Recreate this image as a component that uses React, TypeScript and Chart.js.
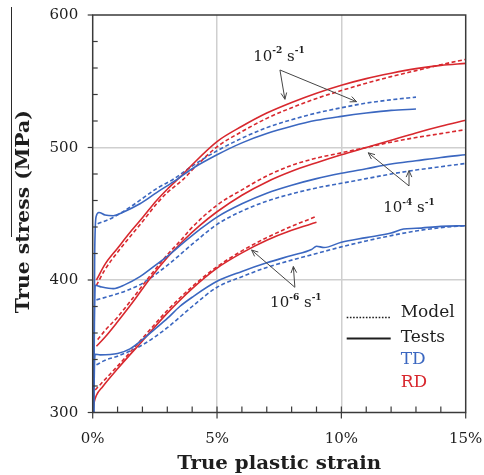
import { useEffect, useRef } from "react";
import { Chart, registerables } from "chart.js";

Chart.register(...registerables);

// ---------- colours & fonts ----------
const RED = "#d8282e";
const BLUE = "#3b67c0";
const AXIS = "#3a3a3a";
const GRID = "#cfcfcf";
const INK = "#1e1e1e";
const SERIF = "'DejaVu Serif', 'Liberation Serif', serif";

// ---------- axes ----------
const strainMin = 0;
const strainMax = 15;
const stressMin = 300;
const stressMax = 600;
const strainMajorTicks = [0, 5, 10, 15];
const strainMinorTicks = [1, 2, 3, 4, 6, 7, 8, 9, 11, 12, 13, 14];
const stressMajorTicks = [300, 400, 500, 600];
const stressMinorTicks = [320, 340, 360, 380, 420, 440, 460, 480, 520, 540, 560, 580];
const strainGrid = [5, 10];
const stressGrid = [400, 500];
const xTitle = "True plastic strain";
const yTitle = "True stress (MPa)";

// ---------- data (strain in %, stress in MPa) ----------
// 10^-2 s^-1, RD
const rd2TestStrain = [0.15, 0.5, 1.0, 1.57, 2.0, 2.57, 3.0, 3.64, 4.0, 5.0, 6.0, 7.0, 8.0, 9.0, 10.0, 11.0, 12.0, 13.0, 14.0, 15.0];
const rd2TestStress = [400, 412, 424, 437.5, 447, 460, 468.5, 480, 487, 504.5, 516, 526, 534, 541, 547, 552, 556, 559.5, 562, 563.5];
const rd2ModelStrain = [0.15, 0.5, 1.0, 2.0, 2.57, 3.0, 3.64, 4.0, 5.0, 6.0, 7.0, 8.0, 9.0, 10.0, 11.0, 12.0, 13.0, 14.0, 15.0];
const rd2ModelStress = [396, 408, 421, 444, 457.5, 466, 476, 483, 500.5, 512, 522, 530, 537, 543, 548.5, 553.5, 558, 562.5, 566.5];
// 10^-2 s^-1, TD
const td2TestStrain = [0.04, 0.08, 0.14, 0.25, 0.5, 0.83, 1.2, 1.9, 2.57, 3.24, 4.0, 5.0, 6.0, 7.0, 8.0, 9.0, 10.0, 11.0, 12.0, 13.0];
const td2TestStress = [300, 420, 448, 451, 449, 448.5, 451, 457.5, 466, 474, 484, 494.5, 503.5, 510.5, 516, 520.5, 523.5, 526, 528, 529];
const td2ModelStrain = [0.2, 0.8, 1.5, 2.0, 2.57, 3.24, 4.0, 5.0, 6.0, 7.0, 8.0, 9.0, 10.0, 11.0, 12.0, 13.0];
const td2ModelStress = [442.5, 447, 455, 461.5, 469, 476, 486, 497.5, 507, 515, 521, 526, 530, 533.5, 536, 538];
// 10^-4 s^-1, RD
const rd4TestStrain = [0.15, 0.5, 1.0, 1.6, 2.3, 3.0, 3.64, 4.3, 5.0, 6.0, 7.0, 8.0, 9.0, 10.0, 11.0, 12.0, 13.0, 14.0, 15.0];
const rd4TestStress = [350, 357, 368.5, 383, 401, 417, 429.6, 441, 451.5, 464, 474, 482, 488.5, 494.5, 500, 505.5, 511, 516, 520.5];
const rd4ModelStrain = [0.2, 0.5, 1.0, 1.6, 2.3, 3.0, 3.64, 3.91, 5.0, 6.0, 7.0, 8.0, 9.0, 10.0, 11.0, 12.0, 13.0, 14.0, 15.0];
const rd4ModelStress = [355, 362, 372, 386, 403, 419, 432, 438, 456.5, 468, 478.5, 486.5, 492, 496, 500, 504, 507.5, 510.5, 513.5];
// 10^-4 s^-1, TD
const td4TestStrain = [0.04, 0.07, 0.1, 0.3, 0.83, 1.3, 1.9, 2.3, 2.98, 3.64, 4.3, 5.0, 6.0, 7.0, 8.0, 9.0, 10.0, 11.0, 12.0, 13.0, 14.0, 15.0];
const td4TestStress = [300, 370, 396, 395, 393.5, 396.5, 402.5, 408, 417.6, 428, 438, 447.5, 457.5, 465.5, 471.5, 476.5, 480.5, 484, 487.5, 490, 492.5, 494.5];
const td4ModelStrain = [0.15, 0.8, 1.5, 2.0, 3.0, 4.0, 5.0, 6.0, 7.0, 8.0, 9.0, 10.0, 11.0, 12.0, 13.0, 14.0, 15.0];
const td4ModelStress = [385, 388.5, 393, 397.5, 411, 427, 442, 452, 459.5, 465, 469.5, 473, 476.5, 480, 483, 485.5, 488];
// 10^-6 s^-1, RD
const rd6TestStrain = [0.0, 0.05, 0.15, 0.4, 1.0, 2.0, 3.0, 4.0, 5.0, 6.0, 7.0, 8.0, 9.0];
const rd6TestStress = [300, 307, 313, 319.5, 333, 354, 375, 393.5, 409, 420.5, 430, 437.5, 443.5];
const rd6ModelStrain = [0.1, 0.3, 0.6, 1.0, 2.0, 3.0, 4.0, 5.0, 6.0, 7.0, 8.0, 9.0];
const rd6ModelStress = [317, 321, 327, 335, 356, 377, 395, 410, 422, 432, 440.5, 448];
// 10^-6 s^-1, TD
const td6TestStrain = [0.04, 0.07, 0.1, 0.3, 1.0, 1.5, 2.0, 2.5, 3.0, 3.5, 4.0, 5.0, 6.0, 7.0, 8.0, 8.8, 9.0, 9.3, 10.0, 11.0, 12.0, 12.5, 13.0, 14.0, 15.0];
const td6TestStress = [300, 335, 344, 343.5, 344.5, 348, 355, 363, 371, 380, 387, 399, 406.5, 413, 418.5, 423, 425.5, 424.5, 428.5, 432, 435.5, 438.5, 439, 440.5, 441];
const td6ModelStrain = [0.15, 0.5, 1.0, 2.0, 3.0, 4.0, 5.0, 6.0, 7.0, 8.0, 9.0, 10.0, 11.0, 12.0, 13.0, 14.0, 15.0];
const td6ModelStress = [336, 339.5, 342.5, 351, 364, 380, 394.5, 402.5, 409.5, 415, 420, 425, 429.5, 433.5, 437, 439.5, 441];

// ---------- annotations (data coordinates) ----------
const rateExponents = ["-2", "-4", "-6"];
const rateLabelStrain = [7.49, 12.72, 8.17];
const rateLabelStress = [568.3, 454, 382.4];
const arrowTailStrain = [7.53, 12.72, 8.13];
const arrowTailStress = [558.5, 471, 394.5];
const arrowHeadStrain = [[7.73, 10.61], [11.08, 12.72], [6.39, 8.07]];
const arrowHeadStress = [[536.4, 534.6], [496, 482.5], [422.6, 410.2]];

// ---------- legend ----------
const legendLabels = ["Model", "Tests", "TD", "RD"];

const pts = (xs: number[], ys: number[]) => xs.map((x, i) => ({ x, y: ys[i] }));

const series = (data: { x: number; y: number }[], color: string, model: boolean) => ({
  data,
  borderColor: color,
  backgroundColor: color,
  borderWidth: 1.6,
  borderDash: model ? [4, 2.5] : [],
  pointRadius: 0,
  cubicInterpolationMode: "monotone" as const,
  fill: false,
});

function drawArrow(ctx: CanvasRenderingContext2D, x0: number, y0: number, x1: number, y1: number) {
  const ang = Math.atan2(y1 - y0, x1 - x0);
  const len = 7;
  const spread = 0.42;
  ctx.beginPath();
  ctx.moveTo(x0, y0);
  ctx.lineTo(x1, y1);
  ctx.moveTo(x1 - len * Math.cos(ang - spread), y1 - len * Math.sin(ang - spread));
  ctx.lineTo(x1, y1);
  ctx.lineTo(x1 - len * Math.cos(ang + spread), y1 - len * Math.sin(ang + spread));
  ctx.stroke();
}

function drawRateLabel(ctx: CanvasRenderingContext2D, cx: number, cy: number, exp: string) {
  const base = `15px ${SERIF}`;
  const sup = `bold 9px ${SERIF}`;
  const parts: [string, string, number][] = [
    ["10", base, 0],
    [exp, sup, -6],
    [" s", base, 0],
    ["-1", sup, -6],
  ];
  let total = 0;
  const widths = parts.map(([t, f]) => {
    ctx.font = f;
    const w = ctx.measureText(t).width;
    total += w;
    return w;
  });
  let x = cx - total / 2;
  ctx.fillStyle = INK;
  ctx.textBaseline = "middle";
  ctx.textAlign = "left";
  parts.forEach(([t, f, dy], i) => {
    ctx.font = f;
    ctx.fillText(t, x, cy + dy);
    x += widths[i];
  });
}

// stretched bold title (the original uses a wide bold face)
function drawTitle(ctx: CanvasRenderingContext2D, text: string, x: number, y: number, rot: number, targetWidth: number) {
  ctx.save();
  ctx.font = `bold 18px ${SERIF}`;
  const w = ctx.measureText(text).width;
  ctx.translate(x, y);
  ctx.rotate(rot);
  ctx.scale(targetWidth / w, 1);
  ctx.fillStyle = INK;
  ctx.textAlign = "center";
  ctx.textBaseline = "alphabetic";
  ctx.fillText(text, 0, 0);
  ctx.restore();
}

const decorPlugin = {
  id: "decor",
  afterDraw(chart: any) {
    const { ctx, chartArea: ca, scales } = chart;
    const xs = scales.x;
    const ys = scales.y;
    ctx.save();
    // frame
    ctx.strokeStyle = AXIS;
    ctx.lineWidth = 1.5;
    ctx.setLineDash([]);
    ctx.strokeRect(ca.left, ca.top, ca.right - ca.left, ca.bottom - ca.top);
    // y ticks
    ctx.lineWidth = 1.2;
    stressMajorTicks.forEach((v) => {
      const py = ys.getPixelForValue(v);
      ctx.beginPath();
      ctx.moveTo(ca.left - 5, py);
      ctx.lineTo(ca.left, py);
      ctx.stroke();
    });
    stressMinorTicks.forEach((v) => {
      const py = ys.getPixelForValue(v);
      ctx.beginPath();
      ctx.moveTo(ca.left, py);
      ctx.lineTo(ca.left + 5, py);
      ctx.stroke();
    });
    // x ticks
    strainMajorTicks.forEach((v) => {
      const px = xs.getPixelForValue(v);
      ctx.beginPath();
      ctx.moveTo(px, ca.bottom + 6);
      ctx.lineTo(px, ca.bottom - (v === strainMin || v === strainMax ? 0 : 6));
      ctx.stroke();
    });
    strainMinorTicks.forEach((v) => {
      const px = xs.getPixelForValue(v);
      ctx.beginPath();
      ctx.moveTo(px, ca.bottom);
      ctx.lineTo(px, ca.bottom - 6);
      ctx.stroke();
    });

    // tick labels
    ctx.fillStyle = INK;
    ctx.font = `15px ${SERIF}`;
    ctx.textAlign = "right";
    ctx.textBaseline = "middle";
    stressMajorTicks.forEach((v) => {
      ctx.fillText(String(v), ca.left - 14.5, ys.getPixelForValue(v) + 0.5);
    });
    ctx.textAlign = "center";
    ctx.textBaseline = "alphabetic";
    strainMajorTicks.forEach((v) => {
      ctx.fillText(`${v}%`, xs.getPixelForValue(v), ca.bottom + 30.5);
    });

    // axis titles
    drawTitle(ctx, xTitle, (ca.left + ca.right) / 2, ca.bottom + 56.5, 0, 204);
    drawTitle(ctx, yTitle, 29, (ca.top + ca.bottom) / 2 - 2, -Math.PI / 2, 203);

    // thin rule left of the y title (present in the original figure)
    ctx.strokeStyle = "#2a2a2a";
    ctx.lineWidth = 1;
    ctx.beginPath();
    ctx.moveTo(11.5, ca.top - 8);
    ctx.lineTo(11.5, ca.top + 222);
    ctx.stroke();

    // arrows + rate labels
    ctx.strokeStyle = "#454545";
    ctx.lineWidth = 1;
    rateExponents.forEach((exp, i) => {
      const tx = xs.getPixelForValue(arrowTailStrain[i]);
      const ty = ys.getPixelForValue(arrowTailStress[i]);
      arrowHeadStrain[i].forEach((hs, j) => {
        drawArrow(ctx, tx, ty, xs.getPixelForValue(hs), ys.getPixelForValue(arrowHeadStress[i][j]));
      });
      drawRateLabel(ctx, xs.getPixelForValue(rateLabelStrain[i]), ys.getPixelForValue(rateLabelStress[i]), exp);
    });

    // legend (bottom-right of plot area)
    const lineX0 = ca.right - 119;
    const lineX1 = ca.right - 75;
    const textX = ca.right - 65;
    const rowY = [ca.bottom - 100, ca.bottom - 75, ca.bottom - 53, ca.bottom - 30];
    ctx.strokeStyle = INK;
    ctx.lineWidth = 1.6;
    ctx.setLineDash([1.6, 1.6]);
    ctx.beginPath();
    ctx.moveTo(lineX0, rowY[0] + 5);
    ctx.lineTo(lineX1, rowY[0] + 5);
    ctx.stroke();
    ctx.setLineDash([]);
    ctx.lineWidth = 2;
    ctx.beginPath();
    ctx.moveTo(lineX0, rowY[1] + 1);
    ctx.lineTo(lineX1, rowY[1] + 1);
    ctx.stroke();
    ctx.font = `17px ${SERIF}`;
    ctx.textAlign = "left";
    ctx.textBaseline = "middle";
    const legendColors = [INK, INK, BLUE, RED];
    legendLabels.forEach((t, i) => {
      ctx.fillStyle = legendColors[i];
      ctx.fillText(t, textX, rowY[i]);
    });
    ctx.restore();
  },
};

export default function App() {
  const ref = useRef<HTMLCanvasElement | null>(null);
  useEffect(() => {
    if (!ref.current) return;
    const chart = new Chart(ref.current, {
      type: "line",
      data: {
        datasets: [
          series(pts(td2TestStrain, td2TestStress), BLUE, false),
          series(pts(td4TestStrain, td4TestStress), BLUE, false),
          series(pts(td6TestStrain, td6TestStress), BLUE, false),
          series(pts(rd2TestStrain, rd2TestStress), RED, false),
          series(pts(rd4TestStrain, rd4TestStress), RED, false),
          series(pts(rd6TestStrain, rd6TestStress), RED, false),
          series(pts(td2ModelStrain, td2ModelStress), BLUE, true),
          series(pts(td4ModelStrain, td4ModelStress), BLUE, true),
          series(pts(td6ModelStrain, td6ModelStress), BLUE, true),
          series(pts(rd2ModelStrain, rd2ModelStress), RED, true),
          series(pts(rd4ModelStrain, rd4ModelStress), RED, true),
          series(pts(rd6ModelStrain, rd6ModelStress), RED, true),
        ],
      },
      options: {
        animation: false,
        responsive: true,
        maintainAspectRatio: false,
        layout: { padding: { left: 0, top: 15, right: 18.3, bottom: 0 } },
        plugins: { legend: { display: false }, tooltip: { enabled: false } },
        scales: {
          x: {
            type: "linear",
            min: strainMin,
            max: strainMax,
            ticks: { stepSize: 5, display: false },
            grid: {
              drawTicks: false,
              lineWidth: 1.5,
              color: (c: any) => (strainGrid.includes(c.tick?.value) ? GRID : "rgba(0,0,0,0)"),
            },
            border: { display: false },
            title: { display: false },
            afterFit: (s: any) => {
              s.height = 62.5;
            },
          },
          y: {
            type: "linear",
            min: stressMin,
            max: stressMax,
            ticks: { stepSize: 100, display: false },
            grid: {
              drawTicks: false,
              lineWidth: 1.5,
              color: (c: any) => (stressGrid.includes(c.tick?.value) ? GRID : "rgba(0,0,0,0)"),
            },
            border: { display: false },
            title: { display: false },
            afterFit: (s: any) => {
              s.width = 92.7;
            },
          },
        },
      },
      plugins: [decorPlugin],
    });
    return () => chart.destroy();
  }, []);
  return (
    <div style={{ position: "fixed", left: 0, top: 0, width: 484, height: 475, background: "#fff" }}>
      <canvas ref={ref} />
    </div>
  );
}
